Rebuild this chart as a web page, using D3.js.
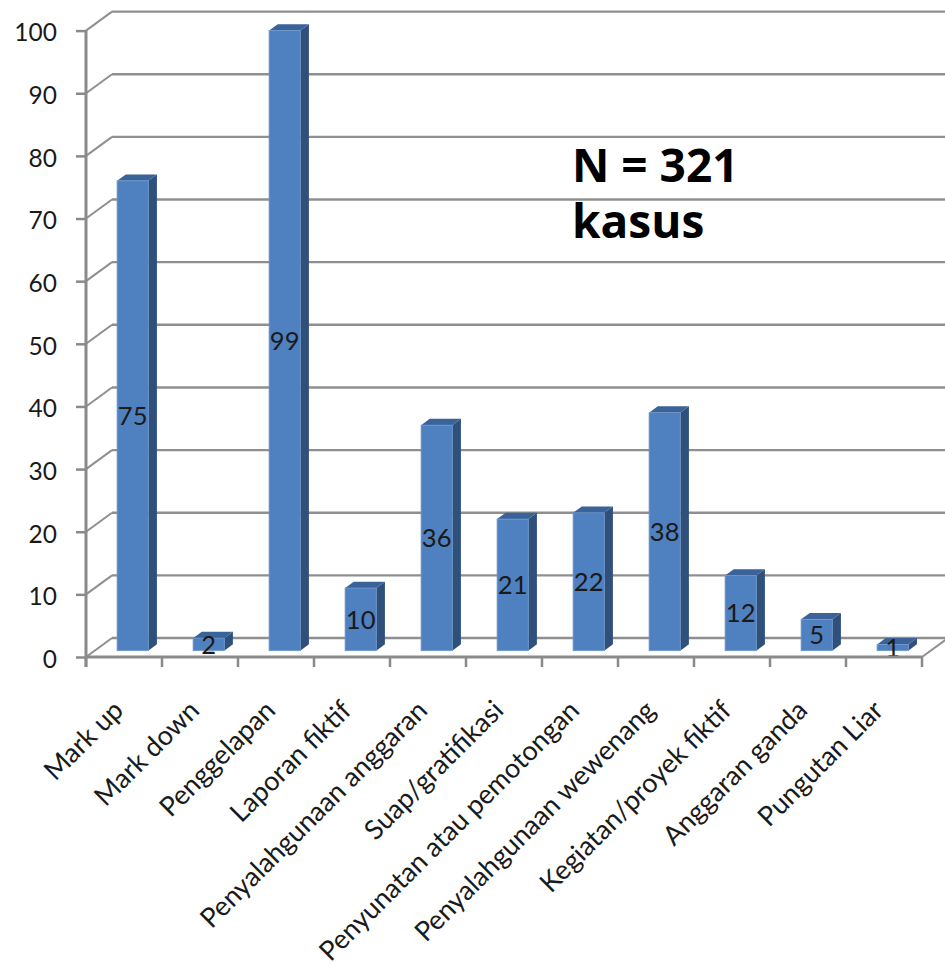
<!DOCTYPE html>
<html>
<head>
<meta charset="utf-8">
<script src="https://cdn.jsdelivr.net/npm/d3@7"></script>
<style>
  html, body { margin: 0; padding: 0; background: #ffffff; }
  svg { display: block; }
</style>
</head>
<body>
<div id="chart"></div>
<script>
const categories = ["Mark up", "Mark down", "Penggelapan", "Laporan fiktif", "Penyalahgunaan anggaran", "Suap/gratifikasi", "Penyunatan atau pemotongan", "Penyalahgunaan wewenang", "Kegiatan/proyek fiktif", "Anggaran ganda", "Pungutan Liar"];
const values = [75, 2, 99, 10, 36, 21, 22, 38, 12, 5, 1];
const yTicks = [0, 10, 20, 30, 40, 50, 60, 70, 80, 90, 100];
const annotation = ["N = 321", "kasus"];

const W = 945, H = 966;
const svg = d3.select("#chart").append("svg").attr("width", W).attr("height", H);

const x = d3.scaleBand().domain(categories).range([86, 922]).padding(0);
const y = d3.scaleLinear().domain([0, 100]).range([657, 30.6]);

const DX = 26, DY = -19;
const gridColor = "#8f8f8f";
const labelFont = "Lato, 'Open Sans', sans-serif";

// back wall gridlines + side wall diagonals
const grid = svg.append("g");
yTicks.forEach(t => {
  grid.append("line")
    .attr("x1", x.range()[0] + DX).attr("x2", W + 10)
    .attr("y1", y(t) + DY).attr("y2", y(t) + DY)
    .attr("stroke", gridColor).attr("stroke-width", 2.4);
  grid.append("line")
    .attr("x1", x.range()[0]).attr("x2", x.range()[0] + DX)
    .attr("y1", y(t)).attr("y2", y(t) + DY)
    .attr("stroke", gridColor).attr("stroke-width", 2);
});
grid.append("line")
  .attr("x1", x.range()[1]).attr("x2", x.range()[1] + DX)
  .attr("y1", y(0)).attr("y2", y(0) + DY)
  .attr("stroke", gridColor).attr("stroke-width", 2);

// bars (3D)
const bw = x.bandwidth() * 0.41;
const ox = DX / 3, oy = DY / 3;
const bdx = DX / 3, bdy = DY / 3;
const bars = svg.append("g");
categories.forEach((c, i) => {
  const v = values[i];
  const cx = x(c) + x.bandwidth() / 2 + ox;
  const x0 = cx - bw / 2, x1 = cx + bw / 2;
  const yb = y(0) + oy, yt = y(v) + oy;
  bars.append("path")
    .attr("d", `M${x1},${yb} L${x1 + bdx},${yb + bdy} L${x1 + bdx},${yt + bdy} L${x1},${yt} Z`)
    .attr("fill", "#30507c");
  bars.append("path")
    .attr("d", `M${x0},${yt} L${x0 + bdx},${yt + bdy} L${x1 + bdx},${yt + bdy} L${x1},${yt} Z`)
    .attr("fill", "#3a6399");
  bars.append("rect")
    .attr("x", x0).attr("y", yt).attr("width", bw).attr("height", yb - yt)
    .attr("fill", "#4f80bf").attr("stroke", "#6f98cc").attr("stroke-width", 0.8);
  bars.append("text")
    .attr("x", cx).attr("y", (yb + yt) / 2)
    .attr("dy", "0.36em")
    .attr("text-anchor", "middle")
    .attr("font-family", labelFont)
    .attr("font-size", 25.5)
    .attr("fill", "#1a1a1a")
    .text(v);
});

// y axis
const yAxis = svg.append("g")
  .attr("transform", `translate(${x.range()[0]},0)`)
  .call(d3.axisLeft(y).tickValues(yTicks).tickSize(10).tickPadding(19));
yAxis.select(".domain").attr("stroke", "#8a8a8a").attr("stroke-width", 3)
  .attr("d", `M0,${y(0) + 10}V${y(100)}`);
yAxis.selectAll(".tick line").attr("stroke", "#8a8a8a").attr("stroke-width", 2.5);
yAxis.selectAll(".tick text")
  .attr("font-family", labelFont)
  .attr("font-size", 24.5).attr("fill", "#1a1a1a").attr("dy", "0.42em");

// x axis
const xAxis = svg.append("g");
xAxis.append("line")
  .attr("x1", x.range()[0]).attr("x2", x.range()[1])
  .attr("y1", y(0)).attr("y2", y(0))
  .attr("stroke", "#8a8a8a").attr("stroke-width", 3);
const bounds = categories.map(c => x(c)).concat([x.range()[1]]);
bounds.forEach(b => {
  xAxis.append("line")
    .attr("x1", b).attr("x2", b)
    .attr("y1", y(0)).attr("y2", y(0) + 10)
    .attr("stroke", "#8a8a8a").attr("stroke-width", 2.5);
});
categories.forEach(c => {
  const lx = x(c) + x.bandwidth() / 2 + 1;
  const ly = y(0) + 55;
  xAxis.append("text")
    .attr("transform", `translate(${lx},${ly}) rotate(-45)`)
    .attr("text-anchor", "end")
    .attr("font-family", labelFont)
    .attr("font-size", 27)
    .attr("fill", "#1a1a1a")
    .text(c);
});

// annotation
svg.append("g").selectAll("text").data(annotation).join("text")
  .attr("x", 572)
  .attr("y", (d, i) => 182 + i * 56)
  .attr("font-family", "Open Sans, sans-serif")
  .attr("font-weight", "bold")
  .attr("font-size", 46)
  .attr("fill", "#000")
  .text(d => d);
</script>
</body>
</html>
